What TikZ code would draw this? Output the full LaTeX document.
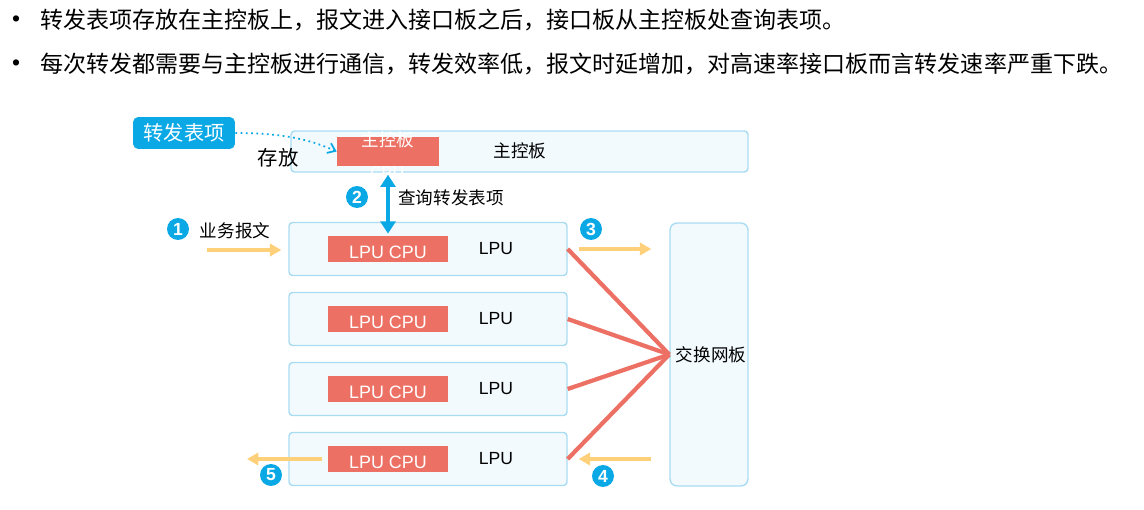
\documentclass[tikz,border=0pt]{standalone}
\usepackage{fontspec}
\setmainfont{Liberation Sans}
\newfontfamily\cjk{Noto Sans CJK SC}
\usetikzlibrary{arrows.meta}

\definecolor{tarjeta}{HTML}{F3FAFE}
\definecolor{borde}{HTML}{A8DCF3}
\definecolor{rojo}{HTML}{EC7063}
\definecolor{azul}{HTML}{0BA8E6}
\definecolor{naranja}{HTML}{FFD07A}

\tikzset{
  placa/.style={draw=borde, fill=tarjeta, rounded corners=2pt, line width=0.8pt, inner sep=0pt},
  cpu/.style={fill=rojo, inner sep=0pt, minimum width=2.4cm, text height=0.46cm, text depth=0.06cm,
    text=white, font=\fontsize{10.2}{12}\selectfont},
  texto/.style={inner sep=0pt, font=\cjk\fontsize{10}{12}\selectfont},
  numero/.style={circle, fill=azul, text=white, inner sep=0pt, minimum size=0.44cm,
    font=\bfseries\fontsize{10}{12}\selectfont},
  flechanaranja/.style={draw=naranja, line width=2.3pt, -{Triangle[length=6.5pt,width=7pt]}},
  enlace/.style={draw=rojo, line width=2.4pt},
}

\begin{document}
\begin{tikzpicture}[x=0.02cm, y=-0.02cm]
  \useasboundingbox (0,0) rectangle (1144,510);

  % Texto de arriba
  \node[inner sep=0pt, font=\fontsize{13}{15}\selectfont] (punto1) at (16,21) {•};
  \node[inner sep=0pt, anchor=west, font=\cjk\fontsize{13.1}{15}\selectfont] (linea1) at (40,20)
    {转发表项存放在主控板上，报文进入接口板之后，接口板从主控板处查询表项。};
  \node[inner sep=0pt, font=\fontsize{13}{15}\selectfont] (punto2) at (16,65) {•};
  \node[inner sep=0pt, anchor=west, font=\cjk\fontsize{13.1}{15}\selectfont] (linea2) at (40,64)
    {每次转发都需要与主控板进行通信，转发效率低，报文时延增加，对高速率接口板而言转发速率严重下跌。};

  % Placa principal
  \node[placa, minimum width=9.14cm, minimum height=0.82cm] (principal) at (519.5,151.5) {};
  \node[fill=rojo, inner sep=0pt, minimum width=2.04cm, minimum height=0.58cm] (cpuprin) at (388,151.5) {};
  \node[texto, text=white, align=center, font=\cjk\fontsize{10}{19}\selectfont] (cpuprintexto) at (388,156) {主控板\\CPU};
  \node[texto] (nombreprin) at (520,151) {主控板};
  \node[texto, font=\cjk\fontsize{11.6}{14}\selectfont] (almacen) at (278,158) {存放};

  % Etiqueta de la tabla
  \node[fill=azul, rounded corners=3pt, inner sep=0pt, minimum width=2.04cm, minimum height=0.64cm,
    text=white, font=\cjk\fontsize{11.5}{14}\selectfont] (tabla) at (184,133) {转发表项};
  \draw[azul, line width=1pt, dotted, -{Straight Barb[length=4pt,width=6pt]}]
    (tabla.east) .. controls (290,133) and (315,142) .. (cpuprin.west);

  % Placas LPU
  \foreach \i/\y in {1/249, 2/319, 3/389, 4/459} {
    \node[placa, minimum width=5.56cm, minimum height=1.06cm] (lpu\i) at (428,\y) {};
    \node[cpu] (cpu\i) at (388,\y) {LPU CPU};
    \node[texto, font=\fontsize{10}{12}\selectfont] (nombre\i) at (496,\y) {LPU};
  }

  % Placa de conmutacion
  \node[placa, rounded corners=4pt, minimum width=1.56cm, minimum height=5.26cm] (conmutador) at (709,354.5) {};
  \node[texto] (nombreconm) at (711,355) {交换网板};

  % Enlaces
  \foreach \i in {1,...,4} {
    \draw[enlace] (lpu\i.east) -- (conmutador.west);
  }

  % Consulta de la tabla
  \draw[azul, line width=2pt, {Triangle[length=7pt,width=8.5pt]}-{Triangle[length=7pt,width=8.5pt]}]
    ([yshift=-0.04cm]principal.south -| cpuprin.center) -- ([yshift=0.04cm]cpu1.north);
  \node[texto] (consulta) at (451,198) {查询转发表项};

  % Recorrido del paquete
  \coordinate (entrada) at (207,250);
  \coordinate (salida) at (247,459);
  \draw[flechanaranja, shorten >=0.14cm] (entrada) -- (entrada -| lpu1.west);
  \draw[flechanaranja, shorten <=0.22cm, shorten >=0.36cm] (lpu1.east) -- (lpu1.east -| conmutador.west);
  \draw[flechanaranja, shorten <=0.36cm, shorten >=0.22cm] (lpu4.east -| conmutador.west) -- (lpu4.east);
  \draw[flechanaranja, shorten <=0.12cm] (cpu4.west) -- (salida);
  \node[texto] (servicio) at (235,231) {业务报文};

  % Numeros
  \node[numero] (n1) at (178,229) {1};
  \node[numero] (n2) at (357,197) {2};
  \node[numero] (n3) at (591,229) {3};
  \node[numero] (n4) at (603,476) {4};
  \node[numero] (n5) at (271,475) {5};

\end{tikzpicture}
\end{document}
